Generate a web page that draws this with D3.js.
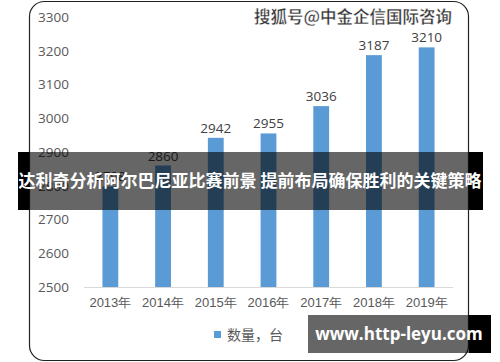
<!DOCTYPE html>
<html>
<head>
<meta charset="utf-8">
<script src="https://cdn.jsdelivr.net/npm/d3@7"></script>
<style>
  html, body { margin: 0; padding: 0; background: #fff; }
  svg { display: block; font-family: "Noto Sans CJK SC", "Noto Sans", sans-serif; }
</style>
</head>
<body>
<svg id="chart" width="500" height="362"></svg>
<script>
const years = ["2013年", "2014年", "2015年", "2016年", "2017年", "2018年", "2019年"];
const counts = [2798, 2860, 2942, 2955, 3036, 3187, 3210];
const yTicks = [2500, 2600, 2700, 2800, 2900, 3000, 3100, 3200, 3300];
const seriesName = "数量，台";
const watermark = "搜狐号@中金企信国际咨询";
const banner = "达利奇分析阿尔巴尼亚比赛前景 提前布局确保胜利的关键策略";
const site = "www.http-leyu.com";

const data = years.map((y, i) => ({year: y, value: counts[i]}));

const svg = d3.select("#chart");

// card behind the chart
svg.append("rect")
  .attr("x", 29.5).attr("y", 1.5)
  .attr("width", 439).attr("height", 359)
  .attr("rx", 15)
  .attr("fill", "#fff")
  .attr("stroke", "#222")
  .attr("stroke-width", 1.2);

const x = d3.scaleBand()
  .domain(years)
  .range([84, 453])
  .paddingInner(0.7)
  .paddingOuter(0.35);

const y = d3.scaleLinear()
  .domain([2500, 3300])
  .range([287, 17]);

// y labels, no axis line
const yAxis = svg.append("g")
  .attr("transform", "translate(69,0)")
  .call(d3.axisLeft(y).tickValues(yTicks).tickFormat(d3.format("d")).tickSize(0).tickPadding(0));
yAxis.select(".domain").remove();
yAxis.selectAll("text")
  .attr("fill", "#595959")
  .style("font-size", "13.5px")
  .style("font-family", "'Open Sans', 'Noto Sans', sans-serif");

const xAxis = svg.append("g")
  .attr("transform", "translate(0,287)")
  .call(d3.axisBottom(x).tickSize(0).tickPadding(11));
xAxis.select(".domain").attr("stroke", "#d9d9d9").attr("d", "M84,0.5H453");
xAxis.selectAll("text")
  .attr("fill", "#595959")
  .style("font-size", "13px");

svg.append("g")
  .selectAll("rect")
  .data(data)
  .join("rect")
    .attr("x", d => x(d.year))
    .attr("y", d => y(d.value))
    .attr("width", x.bandwidth())
    .attr("height", d => y(2500) - y(d.value))
    .attr("fill", "#5b9bd5");

svg.append("g")
  .selectAll("text")
  .data(data)
  .join("text")
    .attr("x", d => x(d.year) + x.bandwidth() / 2)
    .attr("y", d => y(d.value) - 5)
    .attr("text-anchor", "middle")
    .attr("fill", "#404040")
    .style("font-size", "13.5px")
    .style("font-family", "'Open Sans', 'Noto Sans', sans-serif")
    .text(d => d.value);

// legend
const legend = svg.append("g").attr("transform", "translate(214,331)");
legend.append("rect")
  .attr("width", 7).attr("height", 7)
  .attr("fill", "#5b9bd5");
legend.append("text")
  .attr("x", 13).attr("y", 9)
  .attr("fill", "#595959")
  .style("font-size", "14px")
  .text(seriesName);

// watermark top right
svg.append("text")
  .attr("x", 353).attr("y", 23)
  .attr("text-anchor", "middle")
  .attr("fill", "#333")
  .attr("stroke", "#fff")
  .attr("stroke-width", 0.4)
  .style("font-size", "16.5px")
  .style("font-weight", "bold")
  .text(watermark);

// dark strips: black outside the card, translucent over it
function overlay(x0, y0, w, h) {
  const g = svg.append("g");
  const inL = Math.max(x0, 29), inR = Math.min(x0 + w, 469);
  if (inL > x0) g.append("rect").attr("x", x0).attr("y", y0).attr("width", inL - x0).attr("height", h).attr("fill", "#000");
  if (inR < x0 + w) g.append("rect").attr("x", inR).attr("y", y0).attr("width", x0 + w - inR).attr("height", h).attr("fill", "#000");
  g.append("rect").attr("x", inL).attr("y", y0).attr("width", inR - inL).attr("height", h).attr("fill", "rgba(0,0,0,0.6)");
  return g;
}

overlay(18, 152, 465, 58);
svg.append("text")
  .attr("x", 250).attr("y", 187)
  .attr("text-anchor", "middle")
  .attr("fill", "#fff")
  .style("font-size", "17px")
  .style("font-weight", "bold")
  .text(banner);

overlay(308, 315, 183, 38);
svg.append("text")
  .attr("x", 399).attr("y", 340)
  .attr("text-anchor", "middle")
  .attr("fill", "#fff")
  .style("font-size", "17px")
  .style("font-weight", "bold")
  .style("font-family", "'Open Sans', 'DejaVu Sans', sans-serif")
  .text(site);
</script>
</body>
</html>
